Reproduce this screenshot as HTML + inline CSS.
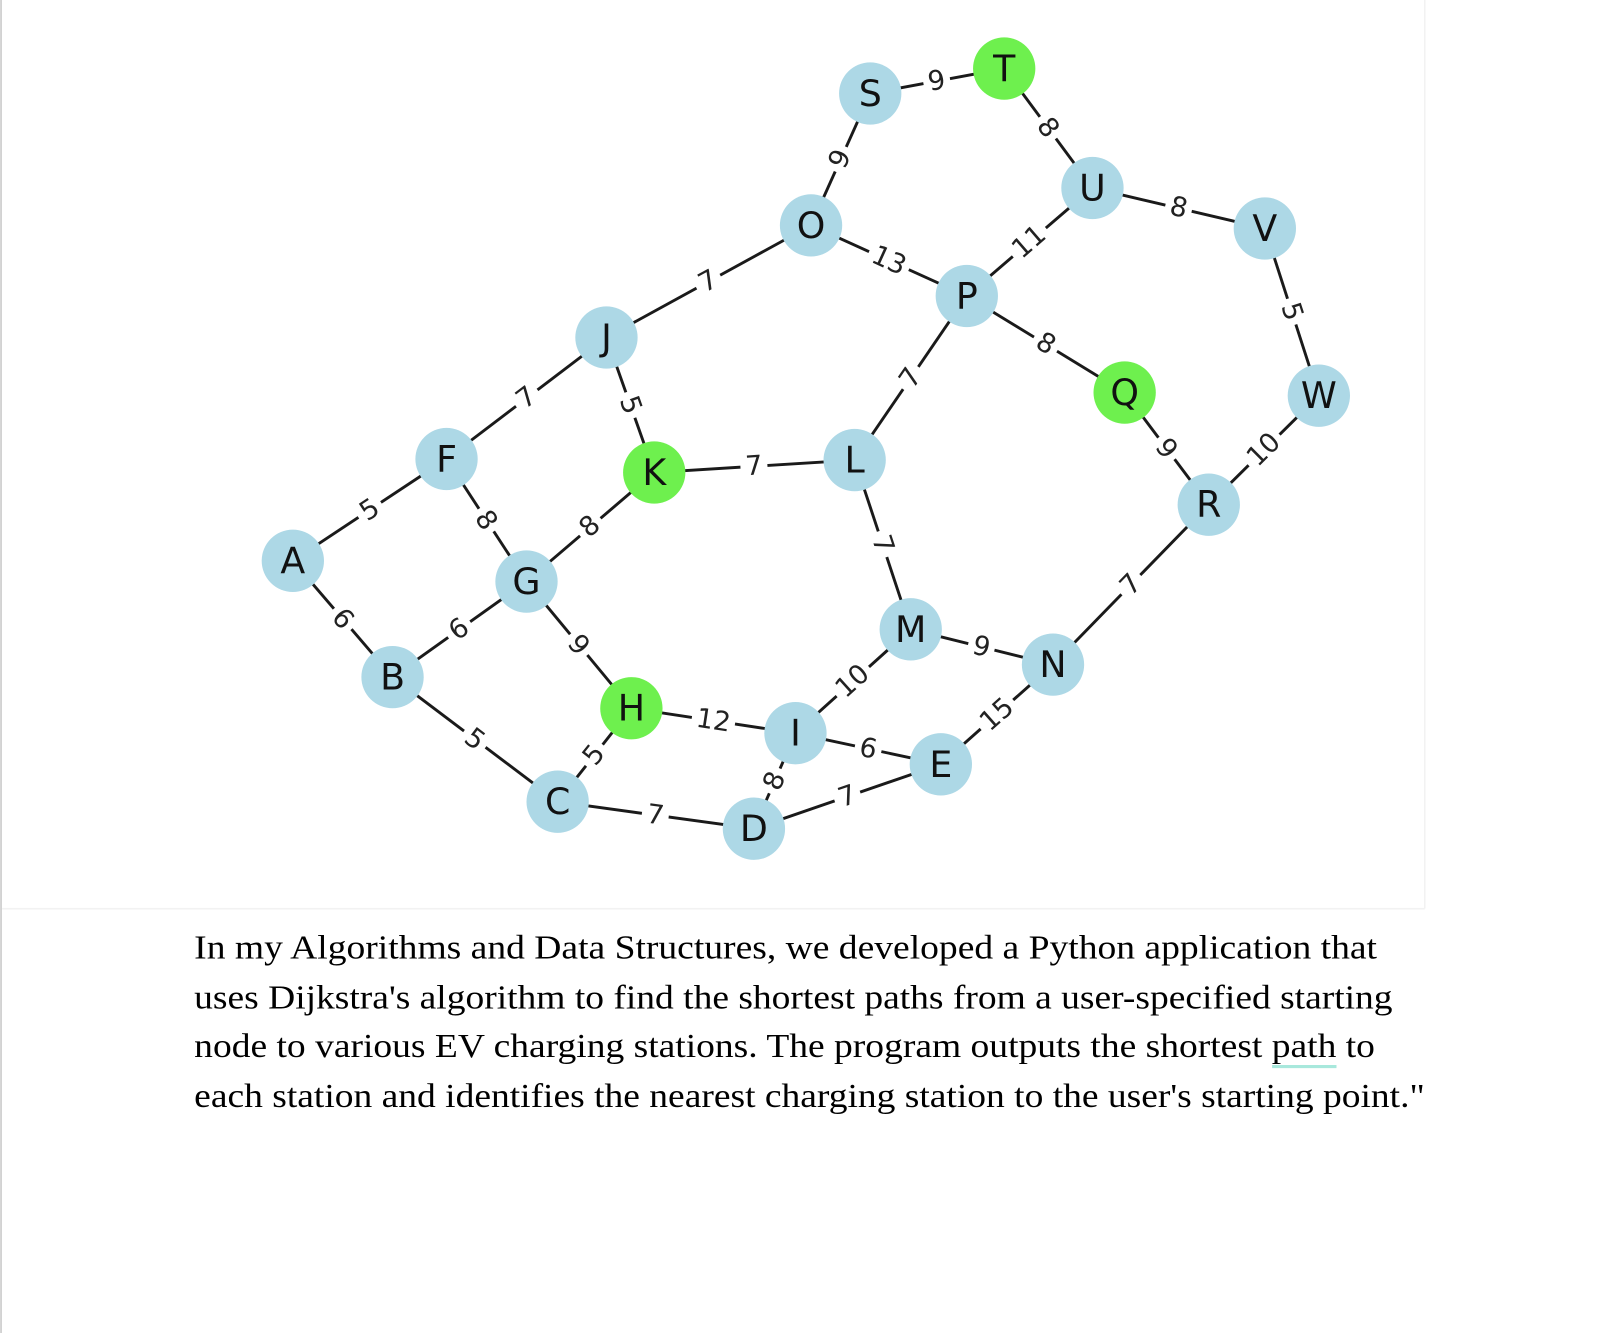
<!DOCTYPE html>
<html><head><meta charset="utf-8"><style>
html,body{margin:0;padding:0;background:#fff;}
svg{display:block;}
.e{stroke:#1a1a1a;stroke-width:2.8;}
.n{fill:#add8e6;}
.g{fill:#6ef04e;}
.nl{font-family:"DejaVu Sans",sans-serif;font-size:35px;fill:#111;text-anchor:middle;dominant-baseline:central;}
.el{font-family:"DejaVu Sans",sans-serif;font-size:26px;fill:#222;text-anchor:middle;dominant-baseline:central;}
.p{font-family:"Liberation Serif",serif;font-size:33px;fill:#000;}
</style></head><body>
<svg width="1620" height="1333" viewBox="0 0 1560 1283.6" xmlns="http://www.w3.org/2000/svg">
<rect x="0" y="0" width="1560" height="1284" fill="#fff"/>
<line x1="1" y1="0" x2="1" y2="1284" stroke="#c8c8c8" stroke-width="1.5"/>
<line x1="1372" y1="0" x2="1372" y2="875" stroke="#f2f2f2" stroke-width="1.5"/>
<line x1="2" y1="875" x2="1372" y2="875" stroke="#f2f2f2" stroke-width="1.5"/>
<g class="e">
<line x1="282" y1="540" x2="430" y2="442"/>
<line x1="282" y1="540" x2="378" y2="652"/>
<line x1="430" y1="442" x2="584" y2="325"/>
<line x1="430" y1="442" x2="507" y2="560"/>
<line x1="378" y1="652" x2="507" y2="560"/>
<line x1="378" y1="652" x2="537" y2="772"/>
<line x1="507" y1="560" x2="630" y2="455"/>
<line x1="507" y1="560" x2="608" y2="682"/>
<line x1="584" y1="325" x2="630" y2="455"/>
<line x1="584" y1="325" x2="781" y2="217"/>
<line x1="630" y1="455" x2="823" y2="443"/>
<line x1="823" y1="443" x2="931" y2="285"/>
<line x1="823" y1="443" x2="877" y2="606"/>
<line x1="781" y1="217" x2="838" y2="90"/>
<line x1="781" y1="217" x2="931" y2="285"/>
<line x1="838" y1="90" x2="967" y2="66"/>
<line x1="967" y1="66" x2="1052" y2="181"/>
<line x1="1052" y1="181" x2="931" y2="285"/>
<line x1="1052" y1="181" x2="1218" y2="220"/>
<line x1="1218" y1="220" x2="1270" y2="381"/>
<line x1="931" y1="285" x2="1083" y2="378"/>
<line x1="1083" y1="378" x2="1164" y2="486"/>
<line x1="1164" y1="486" x2="1270" y2="381"/>
<line x1="1014" y1="640" x2="1164" y2="486"/>
<line x1="877" y1="606" x2="1014" y2="640"/>
<line x1="766" y1="706" x2="877" y2="606"/>
<line x1="608" y1="682" x2="766" y2="706"/>
<line x1="537" y1="772" x2="608" y2="682"/>
<line x1="766" y1="706" x2="906" y2="736"/>
<line x1="726" y1="798" x2="766" y2="706"/>
<line x1="537" y1="772" x2="726" y2="798"/>
<line x1="726" y1="798" x2="906" y2="736"/>
<line x1="906" y1="736" x2="1014" y2="640"/>
</g>
<g>
<g transform="translate(356,491) rotate(-33.5)"><rect x="-13" y="-15" width="26" height="30" fill="#fff"/><text class="el">5</text></g>
<g transform="translate(330,596) rotate(49.4)"><rect x="-13" y="-15" width="26" height="30" fill="#fff"/><text class="el">6</text></g>
<g transform="translate(507,383) rotate(-37.2)"><rect x="-13" y="-15" width="26" height="30" fill="#fff"/><text class="el">7</text></g>
<g transform="translate(468,501) rotate(56.9)"><rect x="-13" y="-15" width="26" height="30" fill="#fff"/><text class="el">8</text></g>
<g transform="translate(442,606) rotate(-35.5)"><rect x="-13" y="-15" width="26" height="30" fill="#fff"/><text class="el">6</text></g>
<g transform="translate(457,712) rotate(37)"><rect x="-13" y="-15" width="26" height="30" fill="#fff"/><text class="el">5</text></g>
<g transform="translate(568,507) rotate(-40.5)"><rect x="-13" y="-15" width="26" height="30" fill="#fff"/><text class="el">8</text></g>
<g transform="translate(557,621) rotate(50.4)"><rect x="-13" y="-15" width="26" height="30" fill="#fff"/><text class="el">9</text></g>
<g transform="translate(607,390) rotate(70.5)"><rect x="-13" y="-15" width="26" height="30" fill="#fff"/><text class="el">5</text></g>
<g transform="translate(682,271) rotate(-28.7)"><rect x="-13" y="-15" width="26" height="30" fill="#fff"/><text class="el">7</text></g>
<g transform="translate(726,449) rotate(-3.6)"><rect x="-13" y="-15" width="26" height="30" fill="#fff"/><text class="el">7</text></g>
<g transform="translate(877,364) rotate(-55.6)"><rect x="-13" y="-15" width="26" height="30" fill="#fff"/><text class="el">7</text></g>
<g transform="translate(850,524) rotate(71.7)"><rect x="-13" y="-15" width="26" height="30" fill="#fff"/><text class="el">7</text></g>
<g transform="translate(809,153) rotate(-65.8)"><rect x="-13" y="-15" width="26" height="30" fill="#fff"/><text class="el">9</text></g>
<g transform="translate(856,251) rotate(24.4)"><rect x="-21" y="-15" width="42" height="30" fill="#fff"/><text class="el">13</text></g>
<g transform="translate(902,78) rotate(-10.5)"><rect x="-13" y="-15" width="26" height="30" fill="#fff"/><text class="el">9</text></g>
<g transform="translate(1009,123) rotate(53.5)"><rect x="-13" y="-15" width="26" height="30" fill="#fff"/><text class="el">8</text></g>
<g transform="translate(991,233) rotate(-40.7)"><rect x="-21" y="-15" width="42" height="30" fill="#fff"/><text class="el">11</text></g>
<g transform="translate(1135,200) rotate(13.2)"><rect x="-13" y="-15" width="26" height="30" fill="#fff"/><text class="el">8</text></g>
<g transform="translate(1244,300) rotate(72.1)"><rect x="-13" y="-15" width="26" height="30" fill="#fff"/><text class="el">5</text></g>
<g transform="translate(1007,331) rotate(31.5)"><rect x="-13" y="-15" width="26" height="30" fill="#fff"/><text class="el">8</text></g>
<g transform="translate(1123,432) rotate(53.1)"><rect x="-13" y="-15" width="26" height="30" fill="#fff"/><text class="el">9</text></g>
<g transform="translate(1217,433) rotate(-44.7)"><rect x="-21" y="-15" width="42" height="30" fill="#fff"/><text class="el">10</text></g>
<g transform="translate(1089,563) rotate(-45.8)"><rect x="-13" y="-15" width="26" height="30" fill="#fff"/><text class="el">7</text></g>
<g transform="translate(945,623) rotate(13.9)"><rect x="-13" y="-15" width="26" height="30" fill="#fff"/><text class="el">9</text></g>
<g transform="translate(821,656) rotate(-42)"><rect x="-21" y="-15" width="42" height="30" fill="#fff"/><text class="el">10</text></g>
<g transform="translate(687,694) rotate(8.6)"><rect x="-21" y="-15" width="42" height="30" fill="#fff"/><text class="el">12</text></g>
<g transform="translate(572,727) rotate(-51.7)"><rect x="-13" y="-15" width="26" height="30" fill="#fff"/><text class="el">5</text></g>
<g transform="translate(836,721) rotate(12.1)"><rect x="-13" y="-15" width="26" height="30" fill="#fff"/><text class="el">6</text></g>
<g transform="translate(746,752) rotate(-66.5)"><rect x="-13" y="-15" width="26" height="30" fill="#fff"/><text class="el">8</text></g>
<g transform="translate(631,785) rotate(7.8)"><rect x="-13" y="-15" width="26" height="30" fill="#fff"/><text class="el">7</text></g>
<g transform="translate(816,767) rotate(-19)"><rect x="-13" y="-15" width="26" height="30" fill="#fff"/><text class="el">7</text></g>
<g transform="translate(960,688) rotate(-41.6)"><rect x="-21" y="-15" width="42" height="30" fill="#fff"/><text class="el">15</text></g>
</g>
<g>
<circle class="n" cx="282" cy="540" r="30"/><text class="nl" x="282" y="540">A</text>
<circle class="n" cx="378" cy="652" r="30"/><text class="nl" x="378" y="652">B</text>
<circle class="n" cx="537" cy="772" r="30"/><text class="nl" x="537" y="772">C</text>
<circle class="n" cx="726" cy="798" r="30"/><text class="nl" x="726" y="798">D</text>
<circle class="n" cx="906" cy="736" r="30"/><text class="nl" x="906" y="736">E</text>
<circle class="n" cx="430" cy="442" r="30"/><text class="nl" x="430" y="442">F</text>
<circle class="n" cx="507" cy="560" r="30"/><text class="nl" x="507" y="560">G</text>
<circle class="g" cx="608" cy="682" r="30"/><text class="nl" x="608" y="682">H</text>
<circle class="n" cx="766" cy="706" r="30"/><text class="nl" x="766" y="706">I</text>
<circle class="n" cx="584" cy="325" r="30"/><text class="nl" x="584" y="325">J</text>
<circle class="g" cx="630" cy="455" r="30"/><text class="nl" x="630" y="455">K</text>
<circle class="n" cx="823" cy="443" r="30"/><text class="nl" x="823" y="443">L</text>
<circle class="n" cx="877" cy="606" r="30"/><text class="nl" x="877" y="606">M</text>
<circle class="n" cx="1014" cy="640" r="30"/><text class="nl" x="1014" y="640">N</text>
<circle class="n" cx="781" cy="217" r="30"/><text class="nl" x="781" y="217">O</text>
<circle class="n" cx="931" cy="285" r="30"/><text class="nl" x="931" y="285">P</text>
<circle class="g" cx="1083" cy="378" r="30"/><text class="nl" x="1083" y="378">Q</text>
<circle class="n" cx="1164" cy="486" r="30"/><text class="nl" x="1164" y="486">R</text>
<circle class="n" cx="838" cy="90" r="30"/><text class="nl" x="838" y="90">S</text>
<circle class="g" cx="967" cy="66" r="30"/><text class="nl" x="967" y="66">T</text>
<circle class="n" cx="1052" cy="181" r="30"/><text class="nl" x="1052" y="181">U</text>
<circle class="n" cx="1218" cy="220" r="30"/><text class="nl" x="1218" y="220">V</text>
<circle class="n" cx="1270" cy="381" r="30"/><text class="nl" x="1270" y="381">W</text>
</g>
<line x1="1225" y1="1027" x2="1287" y2="1027" stroke="#a8e8dc" stroke-width="3"/>
<text class="p" x="187" y="923" textLength="1139" lengthAdjust="spacingAndGlyphs">In my Algorithms and Data Structures, we developed a Python application that</text>
<text class="p" x="187" y="971" textLength="1154" lengthAdjust="spacingAndGlyphs">uses Dijkstra's algorithm to find the shortest paths from a user-specified starting</text>
<text class="p" x="187" y="1018" textLength="1137" lengthAdjust="spacingAndGlyphs">node to various EV charging stations. The program outputs the shortest path to</text>
<text class="p" x="187" y="1066" textLength="1185" lengthAdjust="spacingAndGlyphs">each station and identifies the nearest charging station to the user's starting point."</text>
</svg>
</body></html>
